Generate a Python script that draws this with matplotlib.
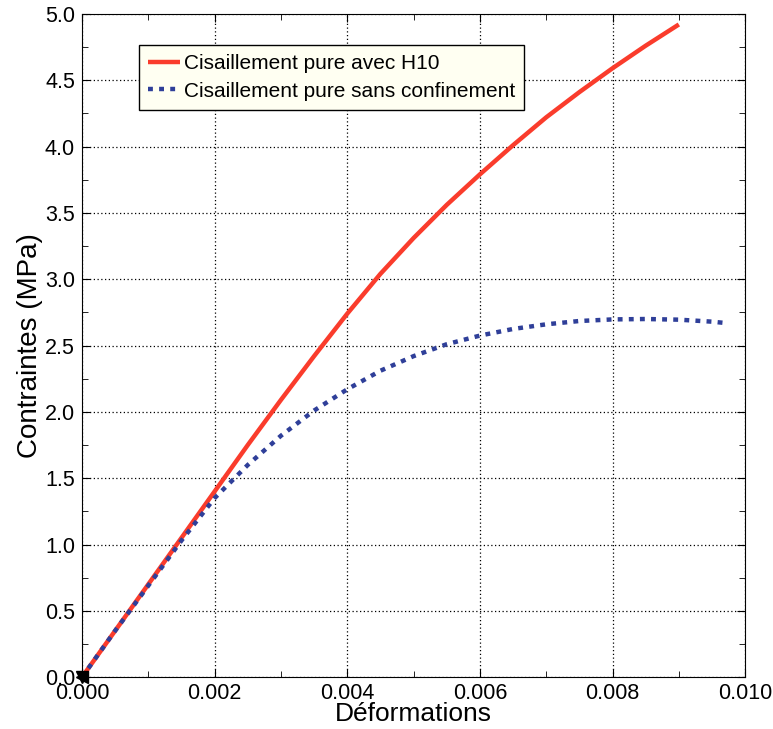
import matplotlib
matplotlib.use("Agg")
import matplotlib.pyplot as plt
from matplotlib.ticker import MultipleLocator, FormatStrFormatter

plt.rcParams['font.family'] = ['Liberation Sans', 'DejaVu Sans']

# courbe avec H10
def_h10 = [0.0, 0.0005, 0.001, 0.0015, 0.002, 0.0025, 0.003, 0.0035, 0.004,
           0.0045, 0.005, 0.0055, 0.006, 0.0065, 0.007, 0.0075, 0.008, 0.0085, 0.009]
con_h10 = [0.0, 0.35, 0.70, 1.05, 1.40, 1.75, 2.09, 2.42, 2.74,
           3.04, 3.31, 3.56, 3.79, 4.01, 4.22, 4.41, 4.59, 4.76, 4.92]

# courbe sans confinement
def_sans = [0.0, 0.0005, 0.001, 0.0015, 0.002, 0.0025, 0.003, 0.0035, 0.004,
            0.0045, 0.005, 0.0055, 0.006, 0.0065, 0.007, 0.0075, 0.008, 0.0085,
            0.009, 0.0095, 0.0097]
con_sans = [0.0, 0.35, 0.69, 1.03, 1.35, 1.60, 1.82, 2.01, 2.17,
            2.31, 2.42, 2.51, 2.575, 2.625, 2.66, 2.685, 2.697, 2.70,
            2.695, 2.68, 2.67]

fig = plt.figure(figsize=(7.73, 7.29), dpi=100)
ax = fig.add_axes([0.106, 0.071, 0.858, 0.910])

ax.plot(def_h10, con_h10, color='#fa3c2c', linewidth=3.2, solid_capstyle='butt',
        label='Cisaillement pure avec H10')
ax.plot(def_sans, con_sans, color='#2f3f99', linewidth=3.2, linestyle=(0, (1.1, 1.4)),
        label='Cisaillement pure sans confinement')

# petites fleches a l'origine
ax.plot([def_h10[0]], [con_h10[0]], marker='v', color='black', markersize=8, clip_on=False)
ax.plot([def_sans[0]], [con_sans[0]], marker='<', color='black', markersize=8, clip_on=False)

ax.set_xlim(0, 0.010)
ax.set_ylim(0, 5.0)
ax.xaxis.set_major_locator(MultipleLocator(0.002))
ax.xaxis.set_minor_locator(MultipleLocator(0.001))
ax.yaxis.set_major_locator(MultipleLocator(0.5))
ax.yaxis.set_minor_locator(MultipleLocator(0.25))
ax.xaxis.set_major_formatter(FormatStrFormatter('%.3f'))
ax.yaxis.set_major_formatter(FormatStrFormatter('%.1f'))
ax.tick_params(which='both', direction='in', top=True, right=True, labelsize=15.5)
ax.tick_params(which='major', length=6, pad=5)
ax.tick_params(axis='x', which='major', pad=4)
ax.tick_params(which='minor', length=4)
ax.grid(True, which='major', color='black', linestyle=(0, (1, 2)), linewidth=0.9)

ax.set_xlabel('Déformations', fontsize=19, labelpad=-1)
ax.set_ylabel('Contraintes (MPa)', fontsize=20, labelpad=1)

leg = ax.legend(loc='upper left', bbox_to_anchor=(0.086, 0.953), fontsize=15,
                handlelength=1.5, handletextpad=0.2, borderpad=0.45, labelspacing=0.4,
                fancybox=False, framealpha=1, borderaxespad=0)
leg.get_frame().set_facecolor('#fffff2')
leg.get_frame().set_edgecolor('black')

plt.savefig('out.png', dpi=100)
